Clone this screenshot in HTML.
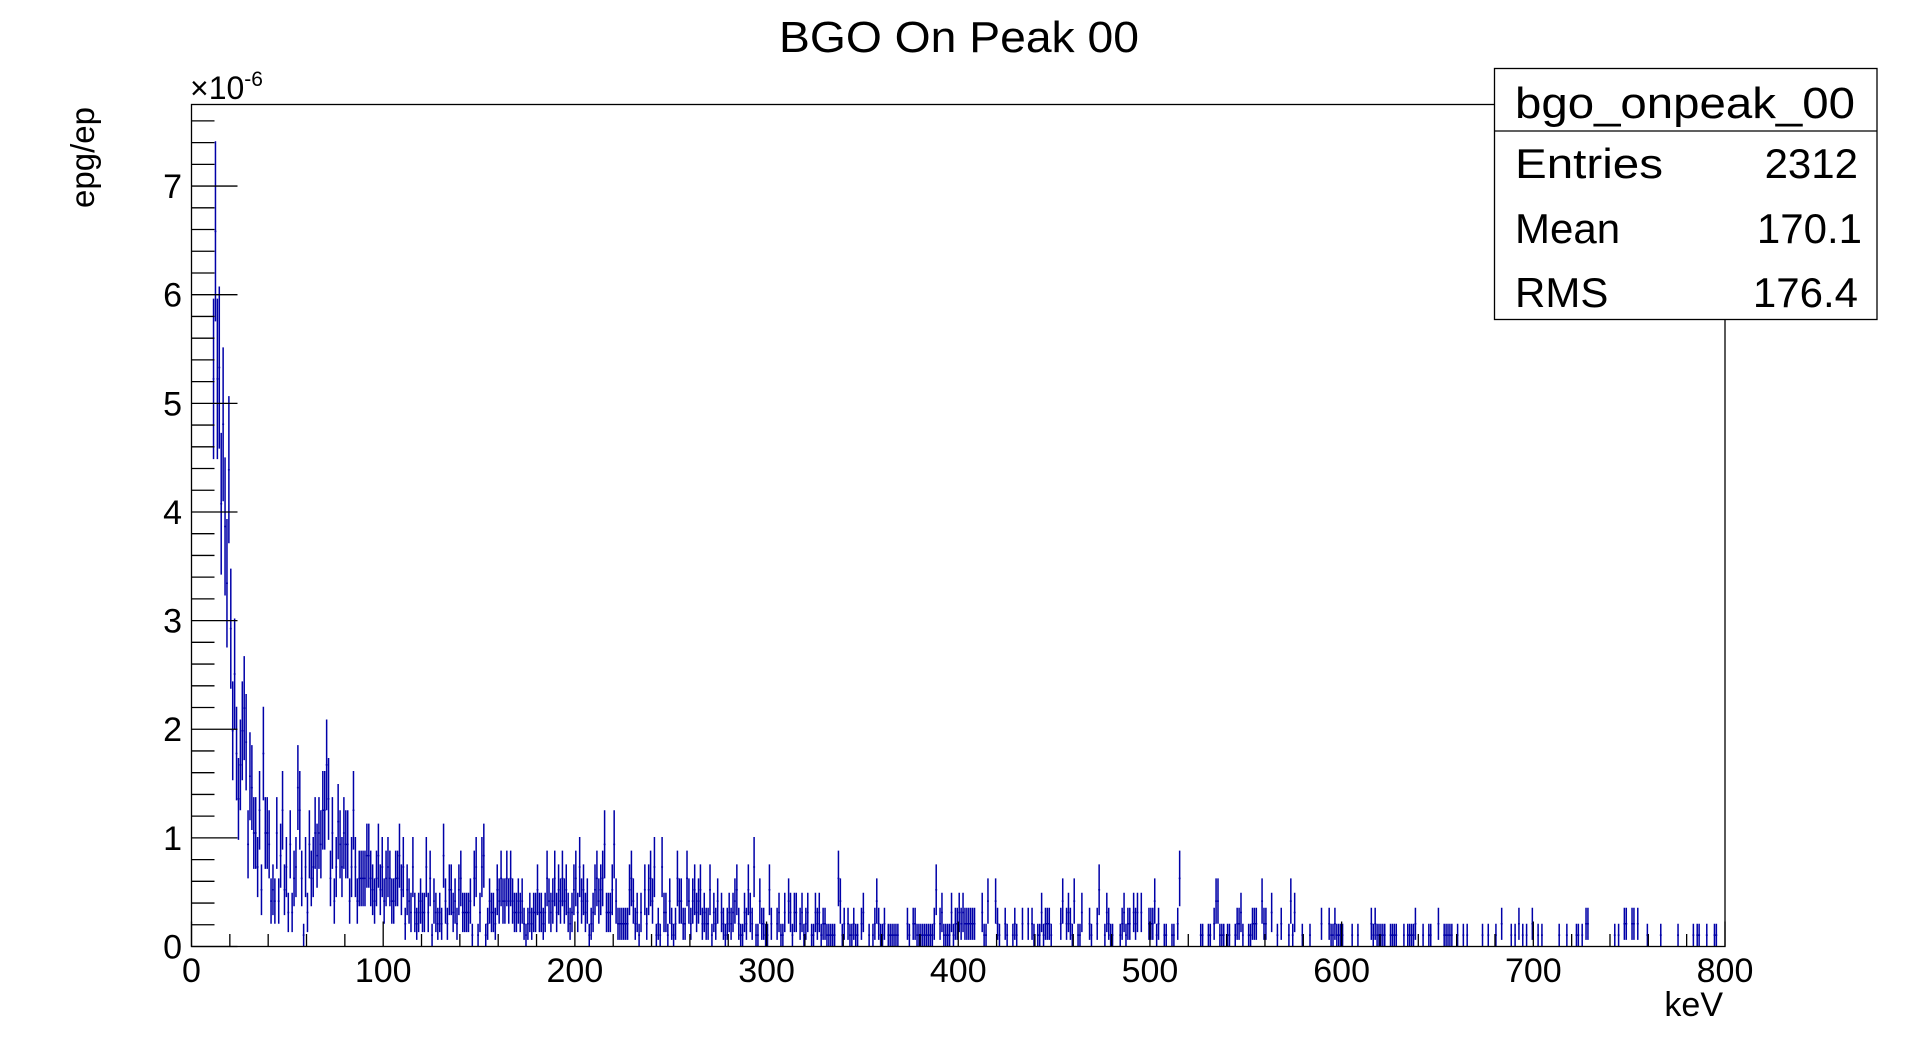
<!DOCTYPE html>
<html><head><meta charset="utf-8"><title>BGO On Peak 00</title>
<style>html,body{margin:0;padding:0;background:#fff;}svg{display:block;font-family:"Liberation Sans",sans-serif;}</style>
</head><body>
<svg id="chart" width="1916" height="1052" viewBox="0 0 1916 1052" xmlns="http://www.w3.org/2000/svg">
<rect x="0" y="0" width="1916" height="1052" fill="#fff"/>
<text x="959" y="52" font-size="44" text-anchor="middle" textLength="360" lengthAdjust="spacingAndGlyphs">BGO On Peak 00</text>
<g id="marks"></g>
<rect x="191.5" y="104.5" width="1533.5" height="842" fill="none" stroke="#000" stroke-width="1.3"/>
<g id="axes"></g>
<text x="190" y="99" font-size="32">×10<tspan font-size="21" dy="-13">-6</tspan></text>
<text transform="translate(94,107) rotate(-90)" font-size="33" text-anchor="end">epg/ep</text>
<text x="1723" y="1016" font-size="34" text-anchor="end">keV</text>
<g>
<rect x="1494.5" y="68.5" width="382.5" height="251" fill="#fff" stroke="#000" stroke-width="1.3"/>
<line x1="1494.5" y1="131" x2="1877" y2="131" stroke="#000" stroke-width="1.3"/>
<text x="1515" y="118" font-size="44" textLength="340" lengthAdjust="spacingAndGlyphs">bgo_onpeak_00</text>
<text x="1515" y="178" font-size="42" textLength="148" lengthAdjust="spacingAndGlyphs">Entries</text>
<text x="1858" y="178" font-size="42" text-anchor="end">2312</text>
<text x="1515" y="243" font-size="42">Mean</text>
<text x="1862" y="243" font-size="42" text-anchor="end">170.1</text>
<text x="1515" y="307" font-size="42">RMS</text>
<text x="1858" y="307" font-size="42" text-anchor="end">176.4</text>
</g>
</svg>
<script>
const xTickValues = [0,100,200,300,400,500,600,700,800];
const xTickLabels = ["0","100","200","300","400","500","600","700","800"];
const yTickValues = [0,1,2,3,4,5,6,7];
const yTickLabels = ["0","1","2","3","4","5","6","7"];
const countScale = 0.1045; // ×1e-6 per entry
const segStarts = [11, 30, 255, 526];
const segPeak = [50,63,50,51,39,46,37,32,42,28,19,24,17,13,16,19,21,18,9];
const segLow = [15,14,10,10,7,12,5,17,10,10,9,4,5,4,10,4,8,12,5,7,3,9,3,6,7,14,12,6,1,7,3,9,6,7,10,8,10,9,12,12,16,13,6,10,4,7,11,9,7,10,9,9,4,7,12,7,4,6,6,6,6,8,8,6,5,4,6,8,5,7,4,6,7,6,4,4,6,6,8,5,7,2,5,4,3,7,3,2,3,4,3,3,7,3,6,1,4,3,2,3,2,8,4,2,5,5,3,4,2,5,6,3,3,3,3,4,1,6,7,1,3,7,8,1,2,4,3,3,2,5,4,6,4,4,6,4,6,4,3,3,4,3,4,2,1,2,3,2,3,3,5,3,3,2,3,6,4,3,4,6,3,5,4,6,4,5,3,2,3,5,6,3,7,4,5,3,4,1,2,3,5,6,4,5,6,9,3,3,3,5,9,4,2,2,2,2,2,2,5,6,4,2,3,1,3,0,5,2,5,6,4,7,1,2,1,7,3,3,1,4,2,1,2,6,4];
const segMid = [4,2,2,6,4,2,4,5,3,4,5,2,3,2,2,5,1,3,2,4,0,3,2,1,2,3,2,3,4,5,2,1,1,3,2,5,3,2,7,1,1,4,2,2,1,1,5,2,0,0,2,3,1,1,3,0,4,3,1,3,3,0,2,3,1,2,3,0,1,1,3,2,3,1,2,2,1,1,1,1,1,0,6,4,1,2,0,2,1,1,2,1,1,0,2,3,0,0,1,0,1,2,4,2,1,1,2,0,1,1,1,1,1,1,0,0,0,0,2,1,0,2,2,1,1,1,1,1,1,1,1,1,2,5,0,2,3,1,1,1,1,3,1,2,2,3,2,3,2,2,2,2,2,2,0,0,0,3,1,1,4,0,0,0,4,2,1,0,0,2,1,0,0,1,2,1,0,0,2,0,0,2,0,2,1,0,1,1,3,1,2,2,2,1,0,0,0,0,2,4,0,2,3,2,1,4,0,1,1,3,0,0,0,2,1,0,0,2,5,0,0,1,3,2,1,1,0,0,0,1,2,3,1,2,2,0,3,2,3,0,3,0,0,0,2,2,2,4,1,2,0,0,1,1,0,0,1,1,0,2,6];
const segHigh = [1,1,0,0,1,1,0,2,4,4,1,1,1,0,1,1,0,0,1,2,2,3,1,0,0,1,1,2,2,2,0,0,4,2,2,0,0,3,0,0,1,
0,2,0,0,0,1,4,1,3,0,0,0,1,0,0,0,1,0,0,0,0,0,2,0,0,0,2,1,1,2,1,1,1,1,0,0,0,0,1,0,
0,1,0,0,0,0,0,0,2,1,2,1,1,1,1,1,0,0,1,1,1,1,0,0,0,1,0,1,1,1,1,2,0,0,0,1,0,0,1,1,
0,0,0,2,0,0,1,1,1,1,1,0,0,1,0,0,1,0,1,0];
const tailKeV = [673,676,680,683,688,690,692,694,696,699,702,704,713,717,722,723,725,727,728,742,744,747,748,751,752,754,759,766,775,783,785,786,790,794,795];
const tailCounts = [1,1,1,2,1,1,2,1,1,2,1,1,1,1,1,1,1,2,2,1,1,2,2,2,2,2,1,1,1,1,1,1,1,1,1];

const X0=191.5, X1=1725, Y0=946.5, Y1=104.5, XMAX=800, YMAX=7.751;
function xPos(k){return X0+(k/XMAX)*(X1-X0);}
function yPos(v){return Y0-(v/YMAX)*(Y0-Y1);}
const NS="http://www.w3.org/2000/svg";
function mk(tag,attrs,parent){const e=document.createElementNS(NS,tag);for(const k in attrs)e.setAttribute(k,attrs[k]);parent.appendChild(e);return e;}

const bins=new Array(800).fill(0);
const segs=[segPeak,segLow,segMid,segHigh];
segs.forEach((s,i)=>{s.forEach((c,j)=>{const b=segStarts[i]+j;if(b<800&&(i===3||b<(segStarts[i+1]||800)))bins[b]=c;});});
tailKeV.forEach((k,i)=>{bins[k]=tailCounts[i];});

const marks=document.getElementById('marks');
let d='';
bins.forEach((c,b)=>{
  if(c<=0)return;
  const v=c*countScale, e=Math.sqrt(c)*countScale;
  const xc=xPos(b+0.5);
  d+=`M${xc.toFixed(2)} ${yPos(Math.max(0,v-e)).toFixed(2)}V${yPos(v+e).toFixed(2)}`;
  d+=`M${xPos(b).toFixed(2)} ${yPos(v).toFixed(2)}H${xPos(b+1).toFixed(2)}`;
});
const p=mk('path',{d:d,stroke:'#0000a8','stroke-width':'1.5',fill:'none'},marks);



const axes=document.getElementById('axes');
let td='';
for(let k=0;k<=800;k+=20){const maj=k%100===0;td+=`M${xPos(k).toFixed(2)} ${Y0}V${Y0-(maj?25:12.5)}`;}
for(let i=0;i<=38;i++){const v=i*0.2;if(v>YMAX)break;const maj=i%5===0;td+=`M${X0} ${yPos(v).toFixed(2)}H${X0+(maj?46:23)}`;}
const tp=mk('path',{d:td,stroke:'#000','stroke-width':'1.3',fill:'none'},axes);


xTickValues.forEach((v,i)=>{
  const t=mk('text',{x:xPos(v),y:982,'font-size':'34','text-anchor':'middle'},axes);
  t.textContent=xTickLabels[i];
  
  
});
yTickValues.forEach((v,i)=>{
  const t=mk('text',{x:182,y:yPos(v)+12,'font-size':'34','text-anchor':'end'},axes);
  t.textContent=yTickLabels[i];
  
  
});
</script>
</body></html>
